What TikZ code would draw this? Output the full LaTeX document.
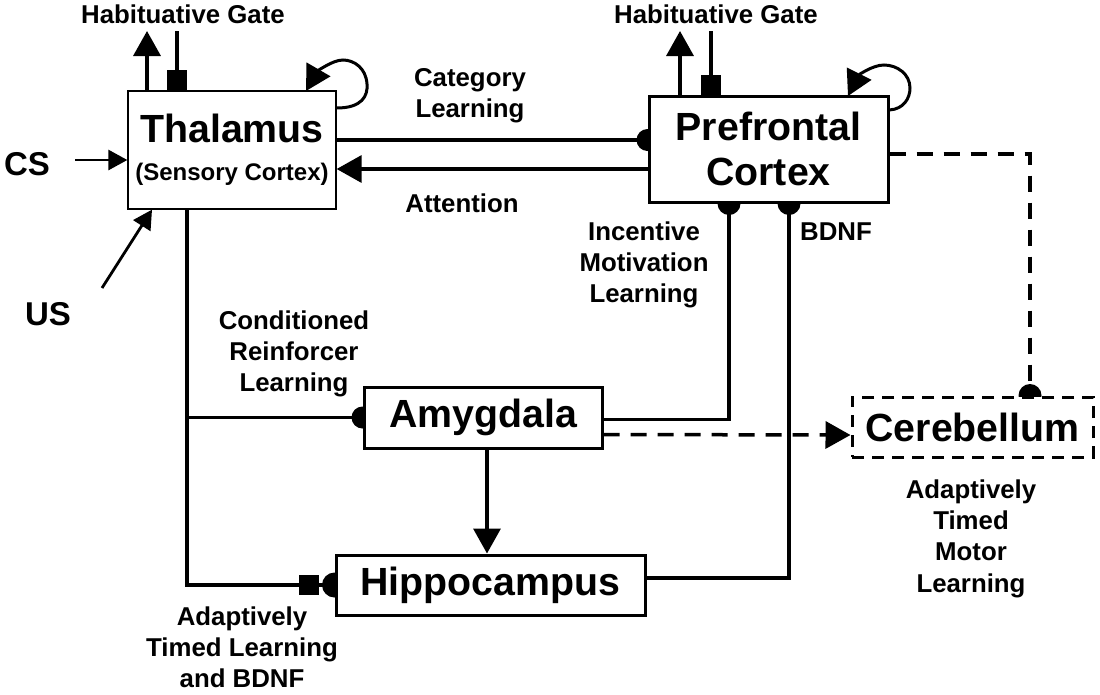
\documentclass[tikz,border=0pt]{standalone}
\usepackage{fontspec}
\setmainfont{Liberation Sans}
\usetikzlibrary{arrows.meta,calc}
\pgfdeclarelayer{bg}
\pgfsetlayers{bg,main}
\begin{document}
\begin{tikzpicture}[x=1pt,y=-1pt,
  box/.style={draw,fill=white,line width=3pt,inner sep=0pt,align=center,
    font=\bfseries\fontsize{39.3}{38}\selectfont},
  lbl/.style={font=\bfseries\fontsize{25.8}{31.2}\selectfont,align=center,inner sep=0pt},
  conn/.style={line width=3.5pt},
  tri/.style={-{Triangle[length=25pt,width=27pt]}},
  smalltri/.style={-{Triangle[length=19pt,width=20pt]}},
  gate/.style={-{Square[length=20pt,width=20pt]}},
  dsh/.style={dash pattern=on 16pt off 11pt},
  ]
\useasboundingbox (0,0) rectangle (1100,694);

% boxes
\node[box,line width=1.3pt,minimum width=208pt,minimum height=118pt] (thal) at (232,150)
  {Thalamus\\{\fontsize{24}{24}\selectfont (Sensory Cortex)}};
\node[box,minimum width=239pt,minimum height=106pt] (pfc) at (768.5,149)
  {Prefrontal\\[7pt]Cortex};
\node[box,minimum width=238pt,minimum height=61pt] (amg) at (483,417.5) {Amygdala};
\node[box,minimum width=309pt,minimum height=60pt] (hip) at (490.5,585) {Hippocampus};
\node[box,dash pattern=on 12pt off 8pt,minimum width=241pt,minimum height=60pt] (cer) at (972.5,427) {Cerebellum};

% free ends
\coordinate (thgA) at (147,31);
\coordinate (thgG) at (177,31);
\coordinate (pfgA) at (680,31);
\coordinate (pfgG) at (711,31);
\coordinate (csS) at (75,160);
\coordinate (usS) at (102,288);

\begin{pgfonlayer}{bg}
  % habituative gates
  \draw[conn,tri] (thal.north -| thgA) -- (thgA);
  \draw[conn,gate] (thgG) -- (thal.north -| thgG);
  \draw[conn,tri] (pfc.north -| pfgA) -- (pfgA);
  \draw[conn,gate] (pfgG) -- (pfc.north -| pfgG);
  % self loops
  \draw[line width=3pt,tri] (thal.east |- 0,108) .. controls (362,108) and (368,96) .. (367,84)
     .. controls (366,68) and (354,60) .. (343,60) .. controls (332,60) and (317,72) .. (306,91);
  \draw[line width=3pt,tri] (pfc.east |- 0,110) .. controls (904,109) and (910,98) .. (910,88)
     .. controls (910,74) and (897,65) .. (884,65) .. controls (872,65) and (858,76) .. (848,96);
  % CS, US
  \draw[line width=2.8pt,smalltri] (csS) -- (thal.west |- csS);
  \draw[line width=2.8pt,smalltri] (usS) -- (thal.south -| 152,0);
  % category learning / attention
  \draw[conn] (thal.east |- 0,140) -- (pfc.west |- 0,140);
  \fill (pfc.west |- 0,140) circle[radius=11pt];
  \draw[conn,tri] (pfc.west |- 0,169) -- (thal.east |- 0,169);
  % thalamus to amygdala / hippocampus
  \draw[conn] (thal.south -| 187,0) |- (hip.west);
  \draw[conn] (amg.west -| 187,0) -- (amg.west);
  \fill (amg.west) circle[radius=11pt];
  \fill ($(hip.west)+(-36,-10)$) rectangle ($(hip.west)+(-16,10)$);
  \fill (hip.west) circle[radius=12.5pt];
  % amygdala to prefrontal
  \draw[conn] ($(amg.east)+(0,2)$) -| (pfc.south -| 729,0);
  \fill (pfc.south -| 729,0) circle[radius=11.5pt];
  % hippocampus to prefrontal
  \draw[conn] ($(hip.east)+(0,-7)$) -| (pfc.south -| 789,0);
  \fill (pfc.south -| 789,0) circle[radius=11.5pt];
  % amygdala to hippocampus
  \draw[conn,tri] (amg.south -| 487,0) -- (hip.north -| 487,0);
  % dashed to cerebellum
  \draw[conn,dsh] ($(pfc.east)+(0,5)$) -| (cer.north -| 1030,0);
  \fill (cer.north -| 1030,0) circle[radius=11.5pt];
  \draw[conn,dsh,tri] ($(amg.east)+(0,17)$) -- (cer.west |- 0,435);
\end{pgfonlayer}

% labels
\node[lbl,anchor=base] (hg1) at (183,23) {Habituative Gate};
\node[lbl,anchor=base] (hg2) at (716,23) {Habituative Gate};
\node[lbl,anchor=north] (cat) at (470,68.5) {Category\\Learning};
\node[lbl,anchor=base] (att) at (462,212) {Attention};
\node[lbl,anchor=north] (imL) at (644,221.5) {Incentive\\Motivation\\Learning};
\node[lbl,anchor=base] (bdnf) at (836,240) {BDNF};
\node[lbl,anchor=north] (crL) at (294,310.5) {Conditioned\\Reinforcer\\Learning};
\node[lbl,anchor=north] (atL) at (242,606.5) {Adaptively\\Timed Learning\\and BDNF};
\node[lbl,anchor=north] (atM) at (971,479.5) {Adaptively\\Timed\\Motor\\Learning};
\node[lbl,anchor=base,font=\bfseries\fontsize{33}{33}\selectfont] (cs) at (27,175) {CS};
\node[lbl,anchor=base,font=\bfseries\fontsize{33}{33}\selectfont] (us) at (48,325) {US};
\end{tikzpicture}
\end{document}
